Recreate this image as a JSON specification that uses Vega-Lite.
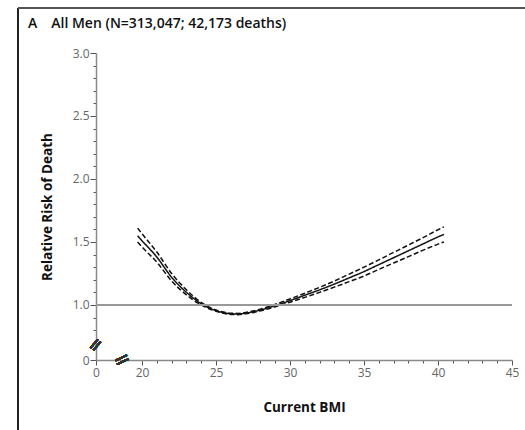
{
  "$schema": "https://vega.github.io/schema/vega-lite/v6.json",
  "width": 416,
  "height": 307,
  "autosize": {"type": "none"},
  "padding": {"left": 96, "top": 53, "right": 13, "bottom": 70},
  "background": "white",
  "config": {
    "view": {"stroke": null},
    "font": "Open Sans",
    "axis": {
      "domainColor": "#8a8a8a",
      "domainWidth": 1.5,
      "tickColor": "#555",
      "tickWidth": 1,
      "labelColor": "#666",
      "labelFont": "Open Sans",
      "labelFontSize": 12,
      "labelOverlap": false,
      "titleFont": "Open Sans",
      "titleFontSize": 13.5,
      "titleFontWeight": "bold",
      "titleColor": "#111",
      "grid": false
    }
  },
  "title": {
    "text": "A\u2003All Men (N=313,047; 42,173 deaths)",
    "anchor": "start",
    "frame": "group",
    "dx": -68,
    "baseline": "alphabetic",
    "offset": -35,
    "fontSize": 14,
    "fontWeight": 600,
    "color": "#111",
    "font": "Open Sans"
  },
  "data": {
    "values": [
      {"bmi": 19.7, "rr": 1.55, "series": "Estimate", "kind": "estimate"},
      {"bmi": 20, "rr": 1.51, "series": "Estimate", "kind": "estimate"},
      {"bmi": 21, "rr": 1.38, "series": "Estimate", "kind": "estimate"},
      {"bmi": 22, "rr": 1.22, "series": "Estimate", "kind": "estimate"},
      {"bmi": 23, "rr": 1.10, "series": "Estimate", "kind": "estimate"},
      {"bmi": 24, "rr": 1.01, "series": "Estimate", "kind": "estimate"},
      {"bmi": 25, "rr": 0.955, "series": "Estimate", "kind": "estimate"},
      {"bmi": 26, "rr": 0.93, "series": "Estimate", "kind": "estimate"},
      {"bmi": 26.5, "rr": 0.928, "series": "Estimate", "kind": "estimate"},
      {"bmi": 27, "rr": 0.935, "series": "Estimate", "kind": "estimate"},
      {"bmi": 28, "rr": 0.96, "series": "Estimate", "kind": "estimate"},
      {"bmi": 29, "rr": 0.995, "series": "Estimate", "kind": "estimate"},
      {"bmi": 30, "rr": 1.035, "series": "Estimate", "kind": "estimate"},
      {"bmi": 31, "rr": 1.077, "series": "Estimate", "kind": "estimate"},
      {"bmi": 32, "rr": 1.12, "series": "Estimate", "kind": "estimate"},
      {"bmi": 33, "rr": 1.166, "series": "Estimate", "kind": "estimate"},
      {"bmi": 34, "rr": 1.215, "series": "Estimate", "kind": "estimate"},
      {"bmi": 35, "rr": 1.265, "series": "Estimate", "kind": "estimate"},
      {"bmi": 36, "rr": 1.32, "series": "Estimate", "kind": "estimate"},
      {"bmi": 37, "rr": 1.375, "series": "Estimate", "kind": "estimate"},
      {"bmi": 38, "rr": 1.43, "series": "Estimate", "kind": "estimate"},
      {"bmi": 39, "rr": 1.485, "series": "Estimate", "kind": "estimate"},
      {"bmi": 40, "rr": 1.54, "series": "Estimate", "kind": "estimate"},
      {"bmi": 40.4, "rr": 1.56, "series": "Estimate", "kind": "estimate"},

      {"bmi": 19.7, "rr": 1.61, "series": "Upper", "kind": "ci"},
      {"bmi": 20, "rr": 1.565, "series": "Upper", "kind": "ci"},
      {"bmi": 21, "rr": 1.42, "series": "Upper", "kind": "ci"},
      {"bmi": 22, "rr": 1.25, "series": "Upper", "kind": "ci"},
      {"bmi": 23, "rr": 1.12, "series": "Upper", "kind": "ci"},
      {"bmi": 24, "rr": 1.02, "series": "Upper", "kind": "ci"},
      {"bmi": 25, "rr": 0.96, "series": "Upper", "kind": "ci"},
      {"bmi": 26, "rr": 0.935, "series": "Upper", "kind": "ci"},
      {"bmi": 26.5, "rr": 0.933, "series": "Upper", "kind": "ci"},
      {"bmi": 27, "rr": 0.94, "series": "Upper", "kind": "ci"},
      {"bmi": 28, "rr": 0.967, "series": "Upper", "kind": "ci"},
      {"bmi": 29, "rr": 1.005, "series": "Upper", "kind": "ci"},
      {"bmi": 30, "rr": 1.048, "series": "Upper", "kind": "ci"},
      {"bmi": 31, "rr": 1.093, "series": "Upper", "kind": "ci"},
      {"bmi": 32, "rr": 1.14, "series": "Upper", "kind": "ci"},
      {"bmi": 33, "rr": 1.19, "series": "Upper", "kind": "ci"},
      {"bmi": 34, "rr": 1.245, "series": "Upper", "kind": "ci"},
      {"bmi": 35, "rr": 1.30, "series": "Upper", "kind": "ci"},
      {"bmi": 36, "rr": 1.358, "series": "Upper", "kind": "ci"},
      {"bmi": 37, "rr": 1.417, "series": "Upper", "kind": "ci"},
      {"bmi": 38, "rr": 1.476, "series": "Upper", "kind": "ci"},
      {"bmi": 39, "rr": 1.535, "series": "Upper", "kind": "ci"},
      {"bmi": 40, "rr": 1.597, "series": "Upper", "kind": "ci"},
      {"bmi": 40.4, "rr": 1.62, "series": "Upper", "kind": "ci"},

      {"bmi": 19.7, "rr": 1.50, "series": "Lower", "kind": "ci"},
      {"bmi": 20, "rr": 1.46, "series": "Lower", "kind": "ci"},
      {"bmi": 21, "rr": 1.34, "series": "Lower", "kind": "ci"},
      {"bmi": 22, "rr": 1.19, "series": "Lower", "kind": "ci"},
      {"bmi": 23, "rr": 1.08, "series": "Lower", "kind": "ci"},
      {"bmi": 24, "rr": 1.0, "series": "Lower", "kind": "ci"},
      {"bmi": 25, "rr": 0.95, "series": "Lower", "kind": "ci"},
      {"bmi": 26, "rr": 0.925, "series": "Lower", "kind": "ci"},
      {"bmi": 26.5, "rr": 0.923, "series": "Lower", "kind": "ci"},
      {"bmi": 27, "rr": 0.93, "series": "Lower", "kind": "ci"},
      {"bmi": 28, "rr": 0.953, "series": "Lower", "kind": "ci"},
      {"bmi": 29, "rr": 0.985, "series": "Lower", "kind": "ci"},
      {"bmi": 30, "rr": 1.022, "series": "Lower", "kind": "ci"},
      {"bmi": 31, "rr": 1.060, "series": "Lower", "kind": "ci"},
      {"bmi": 32, "rr": 1.10, "series": "Lower", "kind": "ci"},
      {"bmi": 33, "rr": 1.142, "series": "Lower", "kind": "ci"},
      {"bmi": 34, "rr": 1.185, "series": "Lower", "kind": "ci"},
      {"bmi": 35, "rr": 1.23, "series": "Lower", "kind": "ci"},
      {"bmi": 36, "rr": 1.282, "series": "Lower", "kind": "ci"},
      {"bmi": 37, "rr": 1.333, "series": "Lower", "kind": "ci"},
      {"bmi": 38, "rr": 1.384, "series": "Lower", "kind": "ci"},
      {"bmi": 39, "rr": 1.435, "series": "Lower", "kind": "ci"},
      {"bmi": 40, "rr": 1.483, "series": "Lower", "kind": "ci"},
      {"bmi": 40.4, "rr": 1.50, "series": "Lower", "kind": "ci"}
    ]
  },
  "layer": [
    {
      "mark": {"type": "line", "color": "#111", "strokeWidth": 1.5, "interpolate": "monotone"},
      "encoding": {
        "x": {
          "field": "bmi",
          "type": "quantitative",
          "scale": {"domain": [16.89, 45], "nice": false, "zero": false},
          "axis": {
            "title": "Current BMI",
            "values": [16.89, 20, 21, 22, 23, 24, 25, 26, 27, 28, 29, 30, 31, 32, 33, 34, 35, 36, 37, 38, 39, 40, 41, 42, 43, 44, 45],
            "tickCount": 200,
            "labelExpr": "datum.value < 18 ? '0' : (datum.value % 5 === 0 ? format(datum.value, 'd') : '')",
            "tickSize": {"condition": {"test": "datum.value < 18 || datum.value % 5 === 0", "value": 5}, "value": 3},
            "labelPadding": 2,
            "labelFlush": false,
            "labelOverlap": false,
            "titlePadding": 22
          }
        },
        "y": {
          "field": "rr",
          "type": "quantitative",
          "scale": {"domain": [0.563, 3.0], "nice": false, "zero": false},
          "axis": {
            "title": "Relative Risk of Death",
            "values": [0.563, 0.8, 0.9, 1.0, 1.1, 1.2, 1.3, 1.4, 1.5, 1.6, 1.7, 1.8, 1.9, 2.0, 2.1, 2.2, 2.3, 2.4, 2.5, 2.6, 2.7, 2.8, 2.9, 3.0],
            "tickCount": 200,
            "labelExpr": "datum.value < 0.7 ? '0' : (round(datum.value * 10) % 5 === 0 ? format(datum.value, '.1f') : '')",
            "tickSize": {"condition": {"test": "datum.value < 0.7 || round(datum.value * 10) % 5 === 0", "value": 6}, "value": 3},
            "labelPadding": 1,
            "labelFlush": false,
            "labelOverlap": false,
            "titlePadding": 18
          }
        },
        "detail": {"field": "series"},
        "strokeDash": {
          "field": "kind",
          "type": "nominal",
          "scale": {"domain": ["estimate", "ci"], "range": [[1, 0], [5, 2.5]]},
          "legend": null
        }
      }
    },
    {
      "mark": {"type": "rule", "color": "#999", "strokeWidth": 2},
      "encoding": {"y": {"datum": 1}}
    },
    {
      "mark": {"type": "text", "text": "=", "fontSize": 20, "angle": 335, "color": "#333", "font": "DejaVu Sans"},
      "encoding": {"x": {"datum": 18.65}, "y": {"datum": 0.563}}
    },
    {
      "mark": {"type": "text", "text": "=", "fontSize": 18, "angle": 310, "color": "#333", "font": "DejaVu Sans"},
      "encoding": {"x": {"datum": 16.89}, "y": {"datum": 0.68}}
    },
    {
      "mark": {"type": "rule", "color": "#222", "strokeWidth": 1.2},
      "encoding": {"x": {"datum": 11.62}, "y": {"datum": 0.0}, "y2": {"datum": 3.357}}
    },
    {
      "mark": {"type": "rule", "color": "#555", "strokeWidth": 1.5},
      "encoding": {"y": {"datum": 3.357}, "x": {"datum": 11.62}, "x2": {"datum": 45.9}}
    }
  ]
}
